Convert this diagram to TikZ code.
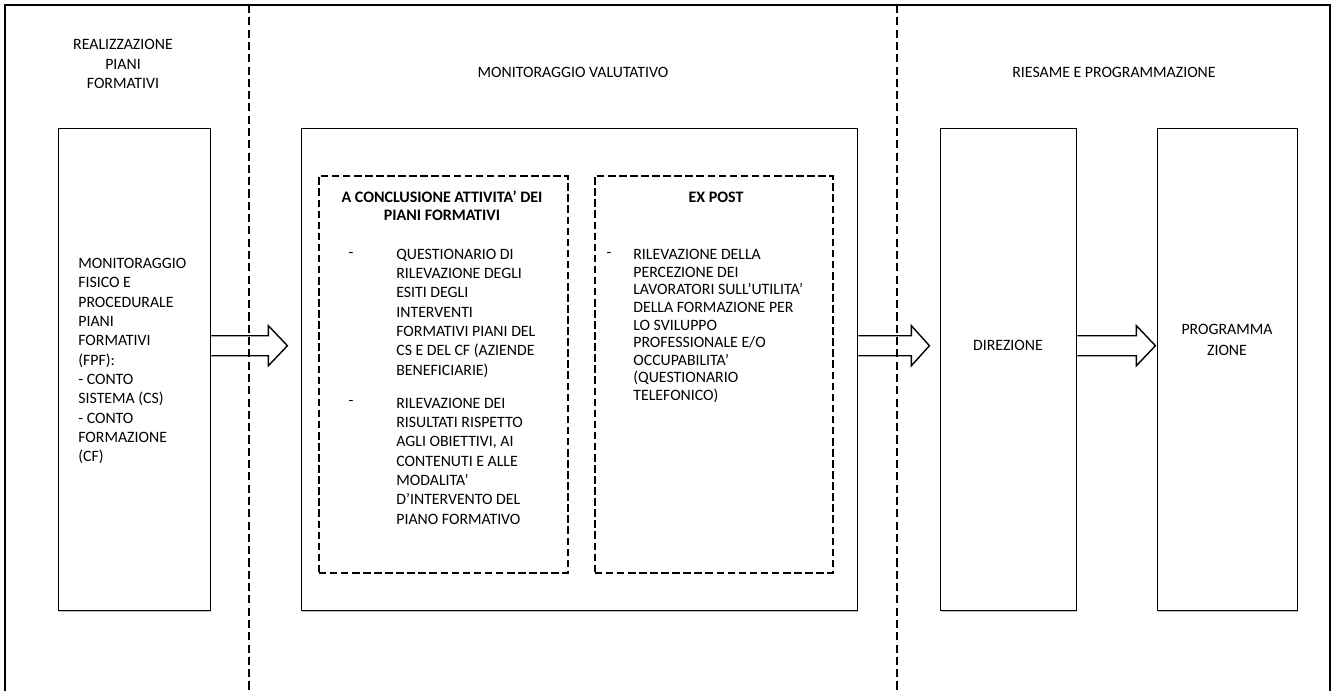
\documentclass[tikz,border=0pt]{standalone}
\usepackage{fontspec}
\setmainfont{Carlito}
\usetikzlibrary{calc,shadows}

\tikzset{
  box/.style={draw,line width=0.8pt,fill=white,inner sep=0pt,anchor=north west,
    drop shadow={shadow xshift=0.4pt,shadow yshift=-0.6pt,fill=black!50}},
  dashbox/.style={draw,line width=0.9pt,dash pattern=on 4.3pt off 2pt,inner sep=0pt,anchor=north west},
  boxdim/.style 2 args={minimum width=#1*0.02cm,minimum height=#2*0.02cm},
  sepline/.style={line width=1pt,dash pattern=on 4.6pt off 2.4pt},
  fatarrow/.style={line width=0.8pt,fill=white,line join=miter},
  lbl/.style={inner sep=0pt,font=\fontsize{9}{11}\selectfont},
}

% block arrow leaving a box: name, length, head length
\newcommand{\blockarrow}[3]{%
  \draw[fatarrow] ($(#1.east)+(0,-24)$) ++(0,-10) -- ++({#2-#3},0) -- ++(0,-10)
    -- ++(#3,20) -- ++(-#3,20) -- ++(0,-10) -- ++({-(#2-#3)},0);}

\begin{document}
\begin{tikzpicture}[x=0.02cm,y=-0.02cm]
\useasboundingbox (0,0) rectangle (1332,691);

% outer frame
  \draw[line width=1pt] (5,691) -- (5,5) -- (1330,5) -- (1330,691);

% column titles
  \node[lbl,align=center] (hreal) at (123,64) {REALIZZAZIONE\\PIANI\\FORMATIVI};
  \node[lbl] (hmon)  at (573,72)  {MONITORAGGIO VALUTATIVO};
  \node[lbl] (hries) at (1114,72) {RIESAME E PROGRAMMAZIONE};

% first column
  \node[box,boxdim={152}{482}] (fpf) at (58,128) {};
  \node[lbl,align=left,anchor=west] (fpftxt) at (78,361)
    {MONITORAGGIO\\FISICO E\\PROCEDURALE\\PIANI\\FORMATIVI\\(FPF):\\- CONTO\\SISTEMA (CS)\\- CONTO\\FORMAZIONE\\(CF)};

% monitoring box with the two phases
  \node[box,boxdim={556}{482}] (mon) at (301,128) {};
  \node[dashbox,boxdim={249}{397}] (concl)  at (318,175) {};
  \node[dashbox,boxdim={238}{397}] (expost) at (594,175) {};

  \node[lbl,font=\fontsize{9.1}{10.4}\selectfont\bfseries,align=center] (concltit) at (442,206)
    {A CONCLUSIONE ATTIVITA’ DEI\\PIANI FORMATIVI};
  \node[lbl] (dashA) at (351,255) {-};
  \node[lbl,align=left,anchor=west] (itemA) at (396,313)
    {QUESTIONARIO DI\\RILEVAZIONE DEGLI\\ESITI DEGLI\\INTERVENTI\\FORMATIVI PIANI DEL\\CS E DEL CF (AZIENDE\\BENEFICIARIE)};
  \node[lbl] (dashB) at (351,403) {-};
  \node[lbl,align=left,anchor=west] (itemB) at (396,461)
    {RILEVAZIONE DEI\\RISULTATI RISPETTO\\AGLI OBIETTIVI, AI\\CONTENUTI E ALLE\\MODALITA’\\D’INTERVENTO DEL\\PIANO FORMATIVO};

  \node[lbl,font=\fontsize{9.1}{11}\selectfont\bfseries] (extit) at (716,197) {EX POST};
  \node[lbl] (dashC) at (609,255) {-};
  \node[lbl,font=\fontsize{9}{10}\selectfont,align=left,anchor=west] (itemC) at (633,326)
    {RILEVAZIONE DELLA\\PERCEZIONE DEI\\LAVORATORI SULL’UTILITA’\\DELLA FORMAZIONE PER\\LO SVILUPPO\\PROFESSIONALE E/O\\OCCUPABILITA’\\(QUESTIONARIO\\TELEFONICO)};

% last column
  \node[box,boxdim={136}{482}] (dir) at (940,128) {};
  \node[lbl] (dirtxt) at (1008,345) {DIREZIONE};
  \node[box,boxdim={140}{482}] (prog) at (1157,128) {};
  \node[lbl,font=\fontsize{9}{11.7}\selectfont,align=center] (progtxt) at (1227,340) {PROGRAMMA\\ZIONE};

% arrows
  \blockarrow{fpf}{76}{19}
  \blockarrow{mon}{71}{18}
  \blockarrow{dir}{78}{19}

% column separators
  \draw[sepline] (249,5) -- (249,691);
  \draw[sepline] (897,5) -- (897,691);

\end{tikzpicture}
\end{document}
